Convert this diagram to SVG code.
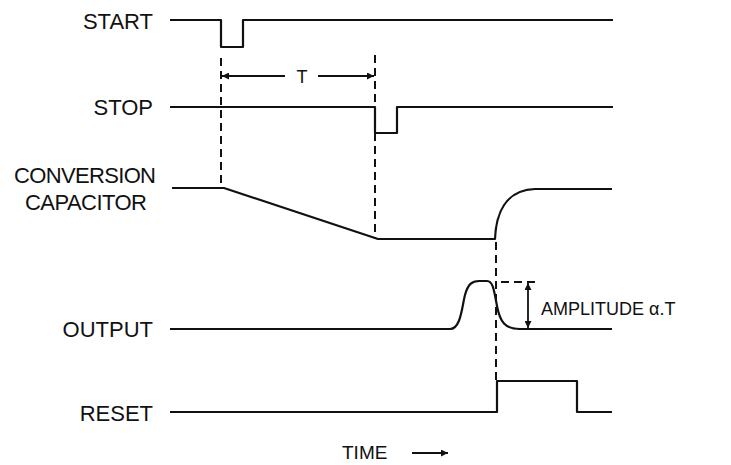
<svg xmlns="http://www.w3.org/2000/svg" width="731" height="465" viewBox="0 0 731 465">
<style>
.lbl{font-family:"Liberation Sans",Arial,sans-serif;font-size:22px;fill:#111}
.sig{fill:none;stroke:#111;stroke-width:2.2;stroke-linejoin:round}
.dash{fill:none;stroke:#111;stroke-width:2;stroke-dasharray:8 5}
.dim{fill:none;stroke:#111;stroke-width:1.8}
</style>
<defs>
<marker id="ah" viewBox="0 0 10 10" refX="10" refY="5" markerWidth="10" markerHeight="7" markerUnits="userSpaceOnUse" orient="auto-start-reverse">
<path d="M0,0 L10,5 L0,10 z" fill="#111"/>
</marker>
</defs>
<rect width="731" height="465" fill="#fff"/>
<g id="start">
<text class="lbl" x="153" y="29" text-anchor="end">START</text>
<path class="sig" d="M170,20 H221 V47 H243 V20 H613"/>
</g>
<g id="stop">
<text class="lbl" x="153" y="115" text-anchor="end">STOP</text>
<path class="sig" d="M170,107 H375 V133 H397 V107 H613"/>
</g>
<g id="capacitor">
<text class="lbl" x="85" y="183" text-anchor="middle" textLength="142">CONVERSION</text>
<text class="lbl" x="86" y="210" text-anchor="middle" textLength="122">CAPACITOR</text>
<path class="sig" d="M172,188 H224 L378,239 H495 C496,214 505,190 535,189 H612"/>
</g>
<g id="output">
<text class="lbl" x="153" y="337" text-anchor="end">OUTPUT</text>
<path class="sig" d="M170,329 H450 C461,329 462,306 465,295 C468,284 472,281 479,281 H487 C493,281 494,290 497,306 C500,322 505,329 520,329 H612"/>
</g>
<g id="reset">
<text class="lbl" x="153" y="421" text-anchor="end">RESET</text>
<path class="sig" d="M170,412 H497 V381 H577 V412 H612"/>
</g>
<g id="time">
<text class="lbl" x="342" y="459" style="font-size:19px">TIME</text>
<line class="dim" x1="412" y1="453" x2="448" y2="453" marker-end="url(#ah)"/>
</g>
<g id="connectors">
<path class="dash" d="M221,58 V188"/>
<path class="dash" d="M375,55 V238"/>
<path class="dash" d="M496,242 V382"/>
<path class="dash" d="M501,282 H537" stroke-dasharray="9 6"/>
<line class="dim" x1="222" y1="76" x2="285" y2="76" marker-start="url(#ah)"/>
<line class="dim" x1="318" y1="76" x2="374" y2="76" marker-end="url(#ah)"/>
<text class="lbl" x="302" y="83" text-anchor="middle" style="font-size:18px">T</text>
<line class="dim" x1="528" y1="283" x2="528" y2="328" marker-start="url(#ah)" marker-end="url(#ah)"/>
<line class="dim" x1="518" y1="329" x2="537" y2="329"/>
<text class="lbl" x="541" y="315" style="font-size:18px">AMPLITUDE α.T</text>
</g>
</svg>
